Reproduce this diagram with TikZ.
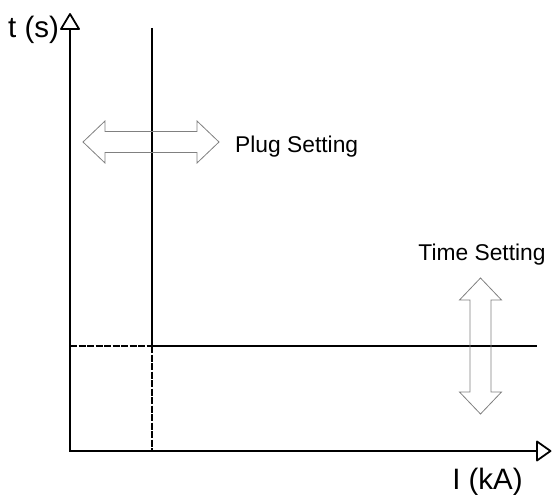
\documentclass[tikz,border=0pt]{standalone}
\usepackage{fontspec}
\setmainfont{Liberation Sans}
\begin{document}
\begin{tikzpicture}[x=1pt,y=-1pt,
  axis/.style={line width=1.8pt},
  tip/.style={line width=1.8pt,fill=white,line join=round},
  curve/.style={line width=1.8pt},
  dashline/.style={line width=1.5pt,dash pattern=on 7pt off 1.5pt},
  arrowline/.style={draw=gray,line width=0.8pt,fill=none},
  axislabel/.style={inner sep=0pt,font=\fontsize{29.5}{32}\selectfont},
  setlabel/.style={inner sep=0pt,font=\fontsize{22.8}{25}\selectfont},
  dblarrow/.pic={\draw[arrowline] (-68,0) -- (-46,-21) -- (-46,-10.5) -- (46,-10.5) -- (46,-21) -- (68,0) -- (46,21) -- (46,10.5) -- (-46,10.5) -- (-46,21) -- cycle;}
]
\useasboundingbox (0,0) rectangle (552,495);
\coordinate (O) at (70,451);
\coordinate (ybase) at (70,29);
\coordinate (ytip) at (70,14);
\coordinate (xbase) at (537,451);
\coordinate (xtip) at (550.5,451);
\coordinate (ptop) at (152,28);
\coordinate (pmid) at (152,346);
\coordinate (pbot) at (152,451);
\coordinate (hleft) at (70,346);
\coordinate (hright) at (537,346);
% plug setting and time setting lines
\draw[curve] (ptop) -- (pmid);
\draw[dashline] (pmid) -- (pbot);
\draw[dashline] (hleft) -- (pmid);
\draw[curve] (pmid) -- (hright);
% axes
\draw[axis] (O) -- (ybase);
\draw[axis] ([xshift=-0.9pt]O) -- (xbase);
\draw[tip] ([xshift=-9pt]ybase) -- (ytip) -- ([xshift=9pt]ybase) -- cycle;
\draw[tip] ([yshift=-9.5pt]xbase) -- (xtip) -- ([yshift=9.5pt]xbase) -- cycle;
% double arrows
\pic at (151,142) {dblarrow};
\pic[rotate=90] at (480.5,346) {dblarrow};
% labels
\node[axislabel,anchor=base west] (tl) at (8,38) {t (s)};
\node[axislabel,anchor=base] (il) at (487.5,489) {I (kA)};
\node[setlabel,anchor=base west] (pl) at (235,152) {Plug Setting};
\node[setlabel,anchor=base] (tsl) at (482,260) {Time Setting};
\end{tikzpicture}
\end{document}
